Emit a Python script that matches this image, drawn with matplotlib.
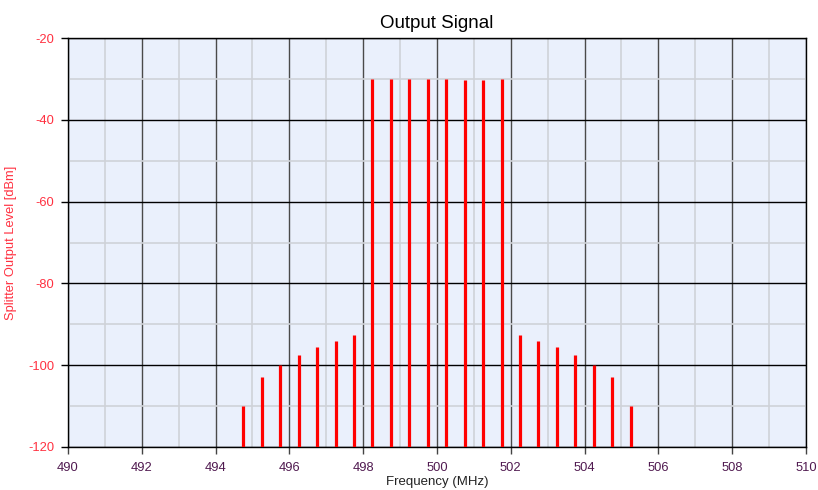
import matplotlib.pyplot as plt
import numpy as np

plt.rcParams['font.family'] = ['Liberation Sans', 'DejaVu Sans']
plt.rcParams['axes.unicode_minus'] = False

# Carrier frequencies (MHz) and splitter output levels (dBm)
freqs = [494.75, 495.25, 495.75, 496.25, 496.75, 497.25, 497.75,
         498.25, 498.75, 499.25, 499.75, 500.25, 500.75, 501.25, 501.75,
         502.25, 502.75, 503.25, 503.75, 504.25, 504.75, 505.25]
levels = [-110, -103, -100, -97.4, -95.6, -94, -92.6,
          -30, -30, -30, -30, -30, -30.2, -30.2, -30,
          -92.6, -94, -95.6, -97.4, -100, -103, -110]

xmin, xmax = 490, 510
ymin, ymax = -120, -20

fig = plt.figure(figsize=(8.18, 4.9), dpi=100)
ax = fig.add_axes([0.0831, 0.0878, 0.9022, 0.8346])
ax.set_facecolor('#eaf0fc')

ax.vlines(freqs, ymin, levels, color='red', lw=2.3, zorder=3)

ax.set_xlim(xmin, xmax)
ax.set_ylim(ymin, ymax)
ax.set_xticks(np.arange(xmin, xmax + 1, 2))
ax.set_yticks(np.arange(ymin, ymax + 1, 20))
ax.set_xticks(np.arange(xmin, xmax + 1, 1), minor=True)
ax.set_yticks(np.arange(ymin, ymax + 1, 10), minor=True)

ax.grid(which='minor', color='#cfd2d8', lw=1.2, zorder=1)
ax.grid(which='major', axis='x', color='#4a4a4a', lw=1.0, zorder=2)
ax.grid(which='major', axis='y', color='black', lw=1.0, zorder=2)

ax.tick_params(which='minor', length=0)
ax.tick_params(which='major', length=5, width=1, direction='out')
ax.tick_params(axis='y', colors='black', labelcolor='#ff3040', labelsize=9.3, pad=5)
ax.tick_params(axis='x', colors='#444444', labelcolor='#501a50', labelsize=9.3, pad=6)

for s in ax.spines.values():
    s.set_color('black')
    s.set_linewidth(1.0)

ax.set_title('Output Signal', fontsize=13.5, pad=7)
ax.set_xlabel('Frequency (MHz)', fontsize=9.5, color='#222222', labelpad=1)
ax.set_ylabel('Splitter Output Level [dBm]', fontsize=9.3, color='#ff3040', labelpad=8)

fig.savefig('out.png', dpi=100)
